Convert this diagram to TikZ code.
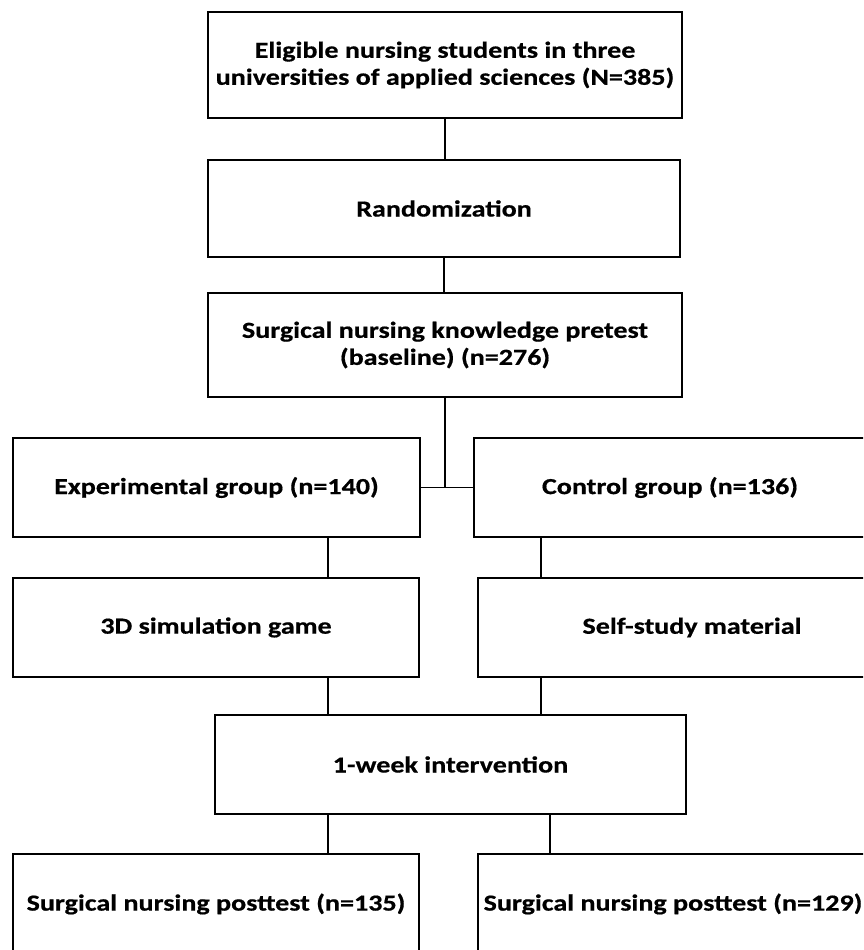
\documentclass[tikz,border=0pt]{standalone}
\usepackage{fontspec}
\setmainfont{Carlito}[FakeStretch=1.22, BoldFeatures={FakeBold=0.6}]
\usetikzlibrary{calc}

\begin{document}
\begin{tikzpicture}[x=1pt, y=-1pt,
    stage/.style={rectangle, draw, line width=2.4pt, align=center, inner sep=0pt,
      font=\bfseries\fontsize{23}{27}\selectfont},
    link/.style={line width=1.3pt}
]
  \useasboundingbox (0,0) rectangle (863,950);
  \clip (0,0) rectangle (863,950);
  \node[stage, minimum width=474, minimum height=106] (elig) at (445,65)
    {Eligible nursing students in three\\universities of applied sciences (N=385)};
  \node[stage, minimum width=472, minimum height=97]  (rand) at (444,208.5) {Randomization};
  \node[stage, minimum width=474, minimum height=104] (pre)  at (445,345)
    {Surgical nursing knowledge pretest\\(baseline) (n=276)};
  \node[stage, minimum width=407, minimum height=99]  (exp)  at (216.5,487.5) {Experimental group (n=140)};
  \node[stage, minimum width=392, minimum height=99]  (ctrl) at (670,487.5) {Control group (n=136)};
  \node[stage, minimum width=406, minimum height=99]  (game) at (216,627.5) {3D simulation game};
  \node[stage, minimum width=428, minimum height=99]  (self) at (692,627.5) {Self-study material};
  \node[stage, minimum width=471, minimum height=99]  (week) at (450.5,764.5) {1-week intervention};
  \node[stage, minimum width=406, minimum height=100] (postE) at (216,904) {Surgical nursing posttest (n=135)};
  \node[stage, minimum width=390, minimum height=100] (postC) at (673,904) {Surgical nursing posttest (n=129)};
  \draw[link] (elig.south) -- (elig.south |- rand.north);
  \draw[link] (rand.south) -- (rand.south |- pre.north);
  \draw[link] (exp.east) -- (ctrl.west);
  \draw[link] (pre.south) -- (pre.south |- exp.east);
  \draw[link] ([xshift=111.5]exp.south) -- ([xshift=111.5]exp.south |- game.north);
  \draw[link] ([xshift=-129]ctrl.south) -- ([xshift=-129]ctrl.south |- self.north);
  \draw[link] ([xshift=112]game.south) -- ([xshift=112]game.south |- week.north);
  \draw[link] ([xshift=-151]self.south) -- ([xshift=-151]self.south |- week.north);
  \draw[link] ([xshift=-122.5]week.south) -- ([xshift=-122.5]week.south |- postE.north);
  \draw[link] ([xshift=99.5]week.south) -- ([xshift=99.5]week.south |- postC.north);
\end{tikzpicture}
\end{document}
